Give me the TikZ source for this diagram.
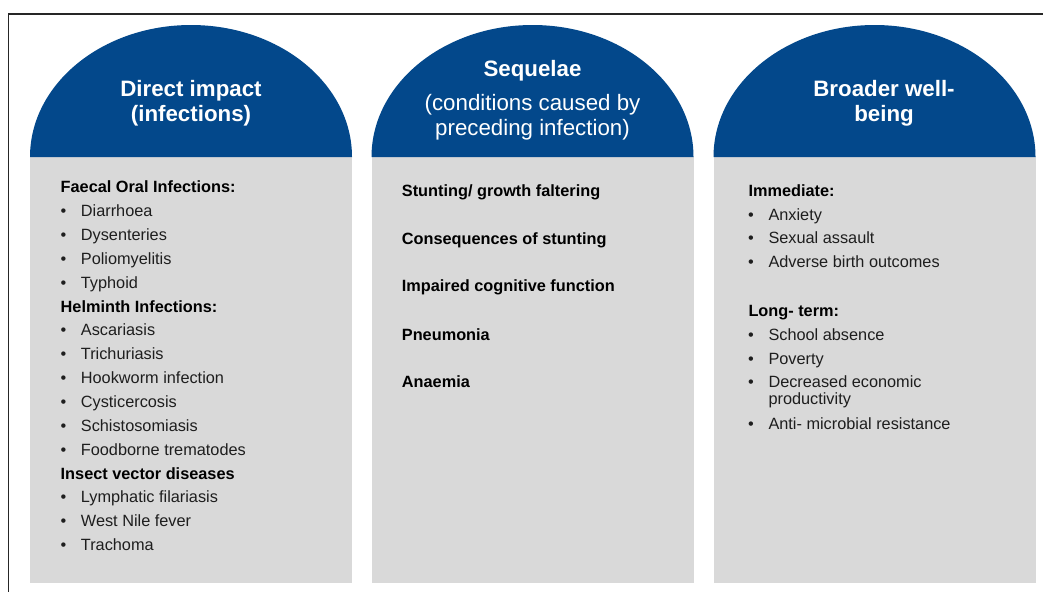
\documentclass[tikz,border=0pt]{standalone}
\usepackage{fontspec}
\setmainfont{Liberation Sans}
\definecolor{domeblue}{HTML}{03488B}
\definecolor{panelgray}{HTML}{D9D9D9}
\definecolor{bodytext}{HTML}{1E1E1E}
\newcommand{\bul}{\llap{\makebox[20.3pt][l]{\textbullet}}}

\begin{document}
\begin{tikzpicture}[x=1pt,y=-1pt,
  panel/.style={fill=panelgray},
  dome/.style={fill=domeblue},
  frameline/.style={draw=black!85, line width=1.4pt},
  headb/.style={text=white, font=\fontsize{22.3}{24}\selectfont\bfseries, inner sep=0, anchor=base},
  headr/.style={text=white, font=\fontsize{22.3}{24}\selectfont, inner sep=0, anchor=base},
  cat/.style={font=\fontsize{16.3}{17}\selectfont\bfseries, text=black, inner sep=0, anchor=base west},
  item/.style={font=\fontsize{16.3}{16.3}\selectfont, text=bodytext, inner sep=0, anchor=base west},
]
\useasboundingbox (0,0) rectangle (1043,592);

% outer frame (open to the right and bottom)
\draw[frameline] (1043,14) -- (8.5,14) -- (8.5,592);

% three panels, each a grey body topped by a blue half-ellipse
\foreach \lx in {30,371.5,713.5} {
  \fill[panel] (\lx,157) rectangle ++(322,426);
  \fill[dome] (\lx,157) arc[start angle=180, end angle=0, x radius=161pt, y radius=132pt] -- cycle;
}

% headings
\node[headb] (h1a) at (191,96.7) {Direct impact};
\node[headb] (h1b) at (191,121) {(infections)};
\node[headb] (h2a) at (532.5,76) {Sequelae};
\node[headr] (h2b) at (532.5,110) {(conditions caused by};
\node[headr] (h2c) at (532.5,135) {preceding infection)};
\node[headb] (h3a) at (884,96.7) {Broader well-};
\node[headb] (h3b) at (884,121) {being};

% direct impact list
\node[cat]  (fo)  at (60.5,192.7) {Faecal Oral Infections:};
\node[item] (fo1) at (80.7,216.7) {\bul Diarrhoea};
\node[item] (fo2) at (80.7,240.7) {\bul Dysenteries};
\node[item] (fo3) at (80.7,264.3) {\bul Poliomyelitis};
\node[item] (fo4) at (80.7,288.3) {\bul Typhoid};
\node[cat]  (he)  at (60.5,312.9) {Helminth Infections:};
\node[item] (he1) at (80.7,335.2) {\bul Ascariasis};
\node[item] (he2) at (80.7,359.2) {\bul Trichuriasis};
\node[item] (he3) at (80.7,383.3) {\bul Hookworm infection};
\node[item] (he4) at (80.7,407.3) {\bul Cysticercosis};
\node[item] (he5) at (80.7,431.6) {\bul Schistosomiasis};
\node[item] (he6) at (80.7,455.7) {\bul Foodborne trematodes};
\node[cat]  (iv)  at (60.5,479.3) {Insect vector diseases};
\node[item] (iv1) at (80.7,502.7) {\bul Lymphatic filariasis};
\node[item] (iv2) at (80.7,526.2) {\bul West Nile fever};
\node[item] (iv3) at (80.7,550) {\bul Trachoma};

% sequelae list
\node[cat] (s1) at (401.7,196.7) {Stunting/ growth faltering};
\node[cat] (s2) at (401.7,244.5) {Consequences of stunting};
\node[cat] (s3) at (401.7,291.8) {Impaired cognitive function};
\node[cat] (s4) at (401.7,340) {Pneumonia};
\node[cat] (s5) at (401.7,387.4) {Anaemia};

% broader well-being list
\node[cat]  (im)  at (748.3,196) {Immediate:};
\node[item] (im1) at (768.3,220) {\bul Anxiety};
\node[item] (im2) at (768.3,243.8) {\bul Sexual assault};
\node[item] (im3) at (768.3,267.8) {\bul Adverse birth outcomes};
\node[cat]  (lt)  at (748.3,316) {Long- term:};
\node[item] (lt1) at (768.3,340) {\bul School absence};
\node[item] (lt2) at (768.3,364) {\bul Poverty};
\node[item] (lt3) at (768.3,387.5) {\bul\begin{tabular}[t]{@{}l@{}}Decreased economic\\productivity\end{tabular}};
\node[item] (lt4) at (768.3,429) {\bul Anti- microbial resistance};
\end{tikzpicture}
\end{document}
